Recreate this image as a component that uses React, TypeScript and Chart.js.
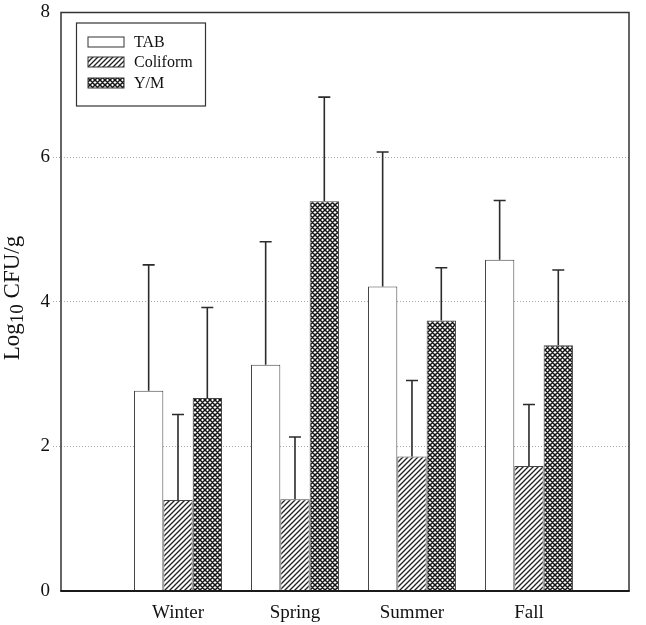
import React, { useEffect, useRef } from 'react';
import { Chart, registerables } from 'chart.js';

Chart.register(...registerables);

// ---- data ----
const categories = ['Winter', 'Spring', 'Summer', 'Fall'];
const categoryPositions = [1, 2, 3, 4];
const seriesNames = ['TAB', 'Coliform', 'Y/M'];
const tabMeans = [2.77, 3.13, 4.21, 4.58];
const tabSD = [1.74, 1.7, 1.86, 0.82];
const coliformMeans = [1.26, 1.27, 1.86, 1.73];
const coliformSD = [1.18, 0.86, 1.05, 0.85];
const ymMeans = [2.67, 5.39, 3.74, 3.4];
const ymSD = [1.25, 1.44, 0.73, 1.04];
const yTickValues = [0, 2, 4, 6, 8];
const yAxisTitleMain = 'Log';
const yAxisTitleSub = '10';
const yAxisTitleRest = ' CFU/g';

const FONT = "'Liberation Serif', 'Times New Roman', serif";

export default function App() {
  const canvasRef = useRef<HTMLCanvasElement | null>(null);

  useEffect(() => {
    document.body.style.margin = '0';
    const canvas = canvasRef.current!;
    const mainCtx = canvas.getContext('2d')!;

    const makeHatch = () => {
      const s = 5;
      const c = document.createElement('canvas');
      c.width = s; c.height = s;
      const g = c.getContext('2d')!;
      g.fillStyle = '#fff';
      g.fillRect(0, 0, s, s);
      g.strokeStyle = '#222';
      g.lineWidth = 1.35;
      g.beginPath();
      g.moveTo(-1, s + 1); g.lineTo(s + 1, -1);
      g.moveTo(-1, 1); g.lineTo(1, -1);
      g.moveTo(s - 1, s + 1); g.lineTo(s + 1, s - 1);
      g.stroke();
      return mainCtx.createPattern(c, 'repeat')!;
    };
    const makeCross = () => {
      const s = 5;
      const c = document.createElement('canvas');
      c.width = s; c.height = s;
      const g = c.getContext('2d')!;
      g.fillStyle = '#fff';
      g.fillRect(0, 0, s, s);
      g.strokeStyle = '#151515';
      g.lineWidth = 1.5;
      g.beginPath();
      g.moveTo(-1, s + 1); g.lineTo(s + 1, -1);
      g.moveTo(-1, 1); g.lineTo(1, -1);
      g.moveTo(s - 1, s + 1); g.lineTo(s + 1, s - 1);
      g.moveTo(-1, -1); g.lineTo(s + 1, s + 1);
      g.moveTo(-1, s - 1); g.lineTo(1, s + 1);
      g.moveTo(s - 1, -1); g.lineTo(s + 1, 1);
      g.stroke();
      return mainCtx.createPattern(c, 'repeat')!;
    };

    const hatch = makeHatch();
    const cross = makeCross();
    const fills: (string | CanvasPattern)[] = ['#ffffff', hatch, cross];
    const means = [tabMeans, coliformMeans, ymMeans];
    const sds = [tabSD, coliformSD, ymSD];

    const errorBars = {
      id: 'errorBars',
      afterDatasetsDraw(chart: any) {
        const ctx = chart.ctx;
        const y = chart.scales.y;
        ctx.save();
        ctx.strokeStyle = '#2b2b2b';
        ctx.lineWidth = 1.6;
        sds.forEach((sdArr, di) => {
          const meta = chart.getDatasetMeta(di);
          meta.data.forEach((bar: any, i: number) => {
            const m = means[di][i];
            const base = y.getPixelForValue(m);
            const top = y.getPixelForValue(m + sdArr[i]);
            ctx.beginPath();
            ctx.moveTo(bar.x, base);
            ctx.lineTo(bar.x, top);
            ctx.moveTo(bar.x - 6, top);
            ctx.lineTo(bar.x + 6, top);
            ctx.stroke();
          });
        });
        ctx.restore();
      },
    };

    const decor = {
      id: 'decor',
      afterDraw(chart: any) {
        const ctx = chart.ctx;
        const a = chart.chartArea;
        ctx.save();
        // frame
        ctx.strokeStyle = '#333';
        ctx.lineWidth = 1.5;
        ctx.beginPath();
        ctx.moveTo(a.left, a.bottom);
        ctx.lineTo(a.left, a.top);
        ctx.lineTo(a.right, a.top);
        ctx.lineTo(a.right, a.bottom);
        ctx.stroke();
        ctx.strokeStyle = '#1a1a1a';
        ctx.lineWidth = 2;
        ctx.beginPath();
        ctx.moveTo(a.left - 0.75, a.bottom);
        ctx.lineTo(a.right + 0.75, a.bottom);
        ctx.stroke();

        // legend
        const lx = a.left + 15.5, ly = a.top + 10.5, lw = 129, lh = 83;
        ctx.fillStyle = '#fff';
        ctx.fillRect(lx, ly, lw, lh);
        ctx.strokeStyle = '#333';
        ctx.lineWidth = 1.2;
        ctx.strokeRect(lx, ly, lw, lh);
        const rowY = [42, 62, 83];
        seriesNames.forEach((name, i) => {
          const cy = rowY[i];
          ctx.fillStyle = fills[i] as any;
          ctx.fillRect(88, cy - 5, 36, 10);
          ctx.strokeStyle = '#333';
          ctx.lineWidth = 1;
          ctx.strokeRect(88, cy - 5, 36, 10);
          ctx.fillStyle = '#111';
          ctx.font = `16px ${FONT}`;
          ctx.textAlign = 'left';
          ctx.textBaseline = 'middle';
          ctx.fillText(name, 134, cy + 1);
        });

        // y axis title with subscript
        const mainFont = `23px ${FONT}`;
        const subFont = `19px ${FONT}`;
        ctx.font = mainFont;
        const w1 = ctx.measureText(yAxisTitleMain).width;
        const w3 = ctx.measureText(yAxisTitleRest).width;
        ctx.font = subFont;
        const w2 = ctx.measureText(yAxisTitleSub).width;
        const total = w1 + w2 + w3;
        const cx = 19, cyc = 298;
        ctx.translate(cx, cyc);
        ctx.rotate(-Math.PI / 2);
        ctx.fillStyle = '#111';
        ctx.textAlign = 'left';
        ctx.textBaseline = 'alphabetic';
        let x = -total / 2;
        ctx.font = mainFont;
        ctx.fillText(yAxisTitleMain, x, 0);
        x += w1;
        ctx.font = subFont;
        ctx.fillText(yAxisTitleSub, x, 4);
        x += w2;
        ctx.font = mainFont;
        ctx.fillText(yAxisTitleRest, x, 0);
        ctx.restore();
      },
    };

    const makeData = (arr: number[]) => categoryPositions.map((x, i) => ({ x, y: arr[i] }));

    const chart = new Chart(canvas, {
      type: 'bar',
      data: {
        datasets: seriesNames.map((name, i) => ({
          label: name,
          data: makeData(means[i]) as any,
          backgroundColor: fills[i] as any,
          borderColor: '#444',
          borderWidth: 1,
          categoryPercentage: 0.752,
          barPercentage: 1,
        })),
      },
      options: {
        responsive: false,
        animation: false,
        layout: { padding: { top: 10, right: 17, left: 0, bottom: 0 } },
        plugins: {
          legend: { display: false },
          tooltip: { enabled: false },
        },
        scales: {
          x: {
            type: 'linear',
            min: 0,
            max: 4.855,
            offset: false,
            grid: { display: false },
            border: { display: false },
            afterBuildTicks: (scale: any) => {
              scale.ticks = categoryPositions.map((v) => ({ value: v }));
            },
            afterFit: (scale: any) => {
              scale.height = 34;
            },
            ticks: {
              autoSkip: false,
              maxRotation: 0,
              padding: 3,
              color: '#111',
              font: { family: FONT, size: 19, lineHeight: 1.2 },
              callback: (v: any) => {
                const idx = categoryPositions.indexOf(Number(v));
                return idx >= 0 ? categories[idx] : '';
              },
            },
          },
          y: {
            type: 'linear',
            min: 0,
            max: 8,
            afterBuildTicks: (scale: any) => {
              scale.ticks = yTickValues.map((v) => ({ value: v }));
            },
            afterFit: (scale: any) => {
              scale.width = 61;
            },
            grid: {
              color: (c: any) => (c.tick && c.tick.value > 0 && c.tick.value < 8 ? '#a8a8a8' : 'rgba(0,0,0,0)'),
              lineWidth: 1,
              tickLength: 8,
              tickBorderDash: [1, 2],
            },
            border: { display: false, dash: [1, 2] },
            ticks: {
              padding: 3,
              color: '#111',
              font: { family: FONT, size: 19, lineHeight: 1 },
            },
          },
        },
      },
      plugins: [errorBars, decor],
    });

    return () => chart.destroy();
  }, []);

  return (
    <div style={{ width: 646, height: 625 }}>
      <canvas ref={canvasRef} width={646} height={625} style={{ display: 'block' }} />
    </div>
  );
}
